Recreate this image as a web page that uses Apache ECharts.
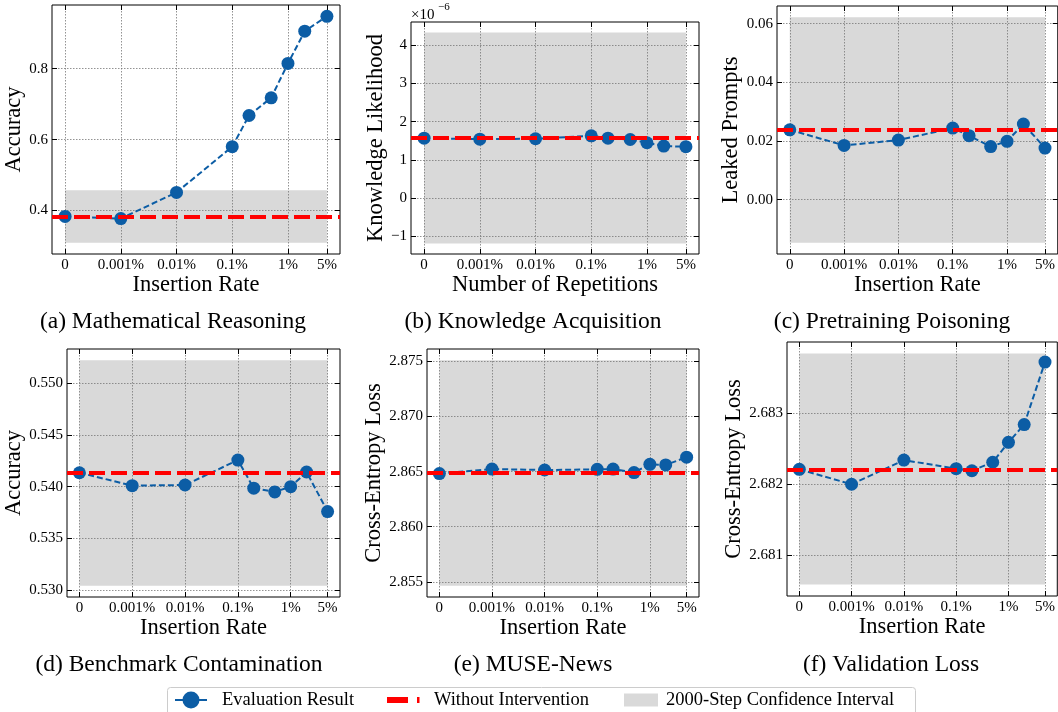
<!DOCTYPE html>
<html><head><meta charset="utf-8">
<script src="https://cdn.jsdelivr.net/npm/echarts@6/dist/echarts.min.js"></script>
<style>html,body{margin:0;padding:0;background:#fff}#c{width:1058px;height:712px}</style>
</head><body><div id="c"></div><script>
// ---------- data ----------
const rates = [0, 0.001, 0.01, 0.1, 0.2, 0.5, 1, 2, 5]; // insertion rate in %
const xTickRates = [0, 0.001, 0.01, 0.1, 1, 5];
const xTickLabels = ['0', '0.001%', '0.01%', '0.1%', '1%', '5%'];

const mathAccuracy = [0.383, 0.377, 0.451, 0.580, 0.668, 0.718, 0.815, 0.906, 0.948];
const mathBaseline = 0.383;
const mathBand = [0.309, 0.457];
const mathTicks = [0.4, 0.6, 0.8];

const knowledgeLikelihood = [1.566e-6, 1.54e-6, 1.55e-6, 1.628e-6, 1.566e-6, 1.53e-6, 1.446e-6, 1.359e-6, 1.342e-6];
const knowledgeBaseline = 1.566e-6;
const knowledgeBand = [-1.19e-6, 4.33e-6];
const knowledgeTicks = [-1e-6, 0, 1e-6, 2e-6, 3e-6, 4e-6];

const leakedPrompts = [0.0238, 0.0185, 0.0203, 0.0244, 0.0218, 0.0181, 0.0199, 0.0258, 0.0176];
const leakedBaseline = 0.0239;
const leakedBand = [-0.0147, 0.0622];
const leakedTicks = [0, 0.02, 0.04, 0.06];

const benchAccuracy = [0.54135, 0.5401, 0.54016, 0.54258, 0.53985, 0.53949, 0.5400, 0.54142, 0.53759];
const benchBaseline = 0.54135;
const benchBand = [0.5304, 0.55225];
const benchTicks = [0.530, 0.535, 0.540, 0.545, 0.550];

const museLoss = [2.86482, 2.86523, 2.86514, 2.8652, 2.86523, 2.86491, 2.86566, 2.8656, 2.86631];
const museBaseline = 2.86488;
const museBand = [2.85464, 2.8751];
const museTicks = [2.855, 2.860, 2.865, 2.870, 2.875];

const valLoss = [2.68221, 2.6820, 2.68234, 2.68222, 2.68219, 2.68231, 2.68259, 2.68284, 2.68372];
const valBaseline = 2.68221;
const valBand = [2.68059, 2.68384];
const valTicks = [2.681, 2.682, 2.683];

const legendNames = ['Evaluation Result', 'Without Intervention', '2000-Step Confidence Interval'];

// ---------- layout / style ----------
const FONT = 'Liberation Serif';
const BLUE = '#0C5DA5';
const RED = '#ff0000';
const BAND = '#d9d9d9';
const panels = [
  {vals: mathAccuracy, base: mathBaseline, band: mathBand, ticks: mathTicks, dec: 1,
   yName: 'Accuracy', xName: 'Insertion Rate', cap: '(a) Mathematical Reasoning',
   grid: {left: 52, top: 5, width: 288, height: 249}, nameGap: 24, capX: 173, capY: 322},
  {vals: knowledgeLikelihood, base: knowledgeBaseline, band: knowledgeBand, ticks: knowledgeTicks, dec: 'e6',
   yName: 'Knowledge Likelihood', xName: 'Number of Repetitions', cap: '(b) Knowledge Acquisition',
   grid: {left: 411, top: 22, width: 288, height: 232}, nameGap: 22, capX: 533, capY: 322},
  {vals: leakedPrompts, base: leakedBaseline, band: leakedBand, ticks: leakedTicks, dec: 2,
   yName: 'Leaked Prompts', xName: 'Insertion Rate', cap: '(c) Pretraining Poisoning',
   grid: {left: 777, top: 6, width: 281, height: 248}, nameGap: 32, capX: 892, capY: 322},
  {vals: benchAccuracy, base: benchBaseline, band: benchBand, ticks: benchTicks, dec: 3,
   yName: 'Accuracy', xName: 'Insertion Rate', cap: '(d) Benchmark Contamination',
   grid: {left: 67, top: 349, width: 273, height: 248}, nameGap: 38, capX: 179, capY: 665},
  {vals: museLoss, base: museBaseline, band: museBand, ticks: museTicks, dec: 3,
   yName: 'Cross-Entropy Loss', xName: 'Insertion Rate', cap: '(e) MUSE-News',
   grid: {left: 427, top: 349, width: 272, height: 248}, nameGap: 38, capX: 533, capY: 665},
  {vals: valLoss, base: valBaseline, band: valBand, ticks: valTicks, dec: 3,
   yName: 'Cross-Entropy Loss', xName: 'Insertion Rate', cap: '(f) Validation Loss',
   grid: {left: 787, top: 342, width: 272, height: 254}, nameGap: 38, capX: 891, capY: 665}
];

// x position on a log-like axis; rate 0 sits one decade below 0.001%
const xPos = r => (r === 0 ? -4 : Math.log10(r));
const xTicks = xTickRates.map(xPos);
const xLo = xPos(rates[0]), xHi = xPos(rates[rates.length - 1]);
const xPad = 0.05 * (xHi - xLo);

function fmtY(v, dec) {
  if (dec === 'e6') {
    const n = Math.round(v / 1e-6);
    return n < 0 ? '\u2212' + Math.abs(n) : String(n);
  }
  const s = Math.abs(v).toFixed(dec);
  return (v < -1e-12 ? '\u2212' : '') + s;
}
function fmtX(v) {
  let best = 0, bd = 1e9;
  xTicks.forEach((t, i) => { const d = Math.abs(t - v); if (d < bd) { bd = d; best = i; } });
  return xTickLabels[best];
}

const grids = [], xAxes = [], yAxes = [], series = [], graphics = [];
const tickStyle = {show: true, inside: true, length: 5, lineStyle: {color: '#000', width: 1}};
const splitStyle = {show: true, lineStyle: {color: '#777', width: 0.8, type: [1.5, 1.5]}};
const noLine = {show: false, onZero: false};
panels.forEach((p, i) => {
  grids.push(Object.assign({show: true, borderColor: '#000', borderWidth: 1, backgroundColor: 'transparent'}, p.grid));
  const lo = Math.min(p.band[0], ...p.vals), hi = Math.max(p.band[1], ...p.vals);
  const pad = 0.05 * (hi - lo);
  const yMin = lo - pad, yMax = hi + pad;
  // bottom x
  xAxes.push({type: 'value', gridIndex: i, position: 'bottom', min: xLo - xPad, max: xHi + xPad, z: 2,
    axisLine: noLine,
    axisTick: Object.assign({customValues: xTicks}, tickStyle),
    axisLabel: {customValues: xTicks, formatter: fmtX, margin: 4, color: '#000', fontFamily: FONT, fontSize: 15},
    splitLine: splitStyle,
    name: p.xName, nameLocation: 'middle', nameGap: 15,
    nameTextStyle: {fontFamily: FONT, fontSize: 22.5, color: '#000'}});
  // top x (ticks only)
  xAxes.push({type: 'value', gridIndex: i, position: 'top', min: xLo - xPad, max: xHi + xPad, z: 2,
    axisLine: noLine, axisTick: Object.assign({customValues: xTicks}, tickStyle),
    axisLabel: {show: false}, splitLine: {show: false}});
  // left y
  yAxes.push({type: 'value', gridIndex: i, position: 'left', min: yMin, max: yMax, z: 2,
    axisLine: noLine,
    axisTick: Object.assign({customValues: p.ticks}, tickStyle),
    axisLabel: {customValues: p.ticks, formatter: v => fmtY(v, p.dec), margin: 4, color: '#000', fontFamily: FONT, fontSize: 15},
    splitLine: splitStyle,
    name: p.yName, nameLocation: 'middle', nameGap: p.nameGap,
    nameTextStyle: {fontFamily: FONT, fontSize: 22.5, color: '#000'}});
  // right y (ticks only)
  yAxes.push({type: 'value', gridIndex: i, position: 'right', min: yMin, max: yMax, z: 2,
    axisLine: noLine, axisTick: Object.assign({customValues: p.ticks}, tickStyle),
    axisLabel: {show: false}, splitLine: {show: false}});

  const xi = 2 * i, yi = 2 * i;
  series.push({type: 'line', name: legendNames[2], xAxisIndex: xi, yAxisIndex: yi, z: 1,
    data: [], symbol: 'none',
    markArea: {silent: true, itemStyle: {color: BAND},
      data: [[{xAxis: xLo, yAxis: p.band[0]}, {xAxis: xHi, yAxis: p.band[1]}]]}});
  series.push({type: 'line', name: legendNames[1], xAxisIndex: xi, yAxisIndex: yi, z: 3,
    data: [], symbol: 'none',
    markLine: {silent: true, symbol: 'none', precision: 12, label: {show: false},
      lineStyle: {color: RED, width: 4, type: [16, 6]},
      data: [{yAxis: p.base}]}});
  series.push({type: 'line', name: legendNames[0], xAxisIndex: xi, yAxisIndex: yi, z: 4,
    data: rates.map((r, k) => [xPos(r), p.vals[k]]),
    symbol: 'circle', symbolSize: 13, itemStyle: {color: BLUE},
    lineStyle: {color: BLUE, width: 2, type: [6, 3]}});

  graphics.push({type: 'text', x: p.capX, y: p.capY, style: {
    text: p.cap, fontFamily: FONT, fontSize: 23.5, fill: '#000', textAlign: 'center', textVerticalAlign: 'middle'}});
});
// offset text for panel (b)
graphics.push({type: 'text', x: 411, y: 8, style: {text: '\u00d710', fontFamily: FONT, fontSize: 15, fill: '#000'}});
graphics.push({type: 'text', x: 438, y: 2, style: {text: '\u22126', fontFamily: FONT, fontSize: 11, fill: '#000'}});

// legend box (drawn as graphics for exact matplotlib-like handles)
const LY = 700;
const legendFont = {fontFamily: FONT, fontSize: 18.5, fill: '#000', textVerticalAlign: 'middle'};
graphics.push(
  {type: 'rect', shape: {x: 167.5, y: 687.5, width: 748, height: 40, r: 3}, style: {fill: '#fff', stroke: '#cccccc', lineWidth: 1}, z: 10},
  {type: 'line', shape: {x1: 175, y1: LY, x2: 207, y2: LY}, style: {stroke: BLUE, lineWidth: 2}, z: 11},
  {type: 'circle', shape: {cx: 191, cy: LY, r: 8.5}, style: {fill: BLUE}, z: 11},
  {type: 'text', x: 222, y: LY, style: Object.assign({text: legendNames[0]}, legendFont), z: 11},
  {type: 'rect', shape: {x: 387, y: LY - 3, width: 21, height: 6}, style: {fill: RED}, z: 11},
  {type: 'rect', shape: {x: 417, y: LY - 3, width: 2.5, height: 6}, style: {fill: RED}, z: 11},
  {type: 'text', x: 434, y: LY, style: Object.assign({text: legendNames[1]}, legendFont), z: 11},
  {type: 'rect', shape: {x: 624, y: LY - 6.5, width: 34, height: 13}, style: {fill: BAND}, z: 11},
  {type: 'text', x: 666, y: LY, style: Object.assign({text: legendNames[2]}, legendFont), z: 11}
);

const chart = echarts.init(document.getElementById('c'), null, {renderer: 'canvas'});
chart.setOption({
  animation: false,
  backgroundColor: '#fff',
  grid: grids, xAxis: xAxes, yAxis: yAxes, series: series, graphic: graphics
});
</script></body></html>
